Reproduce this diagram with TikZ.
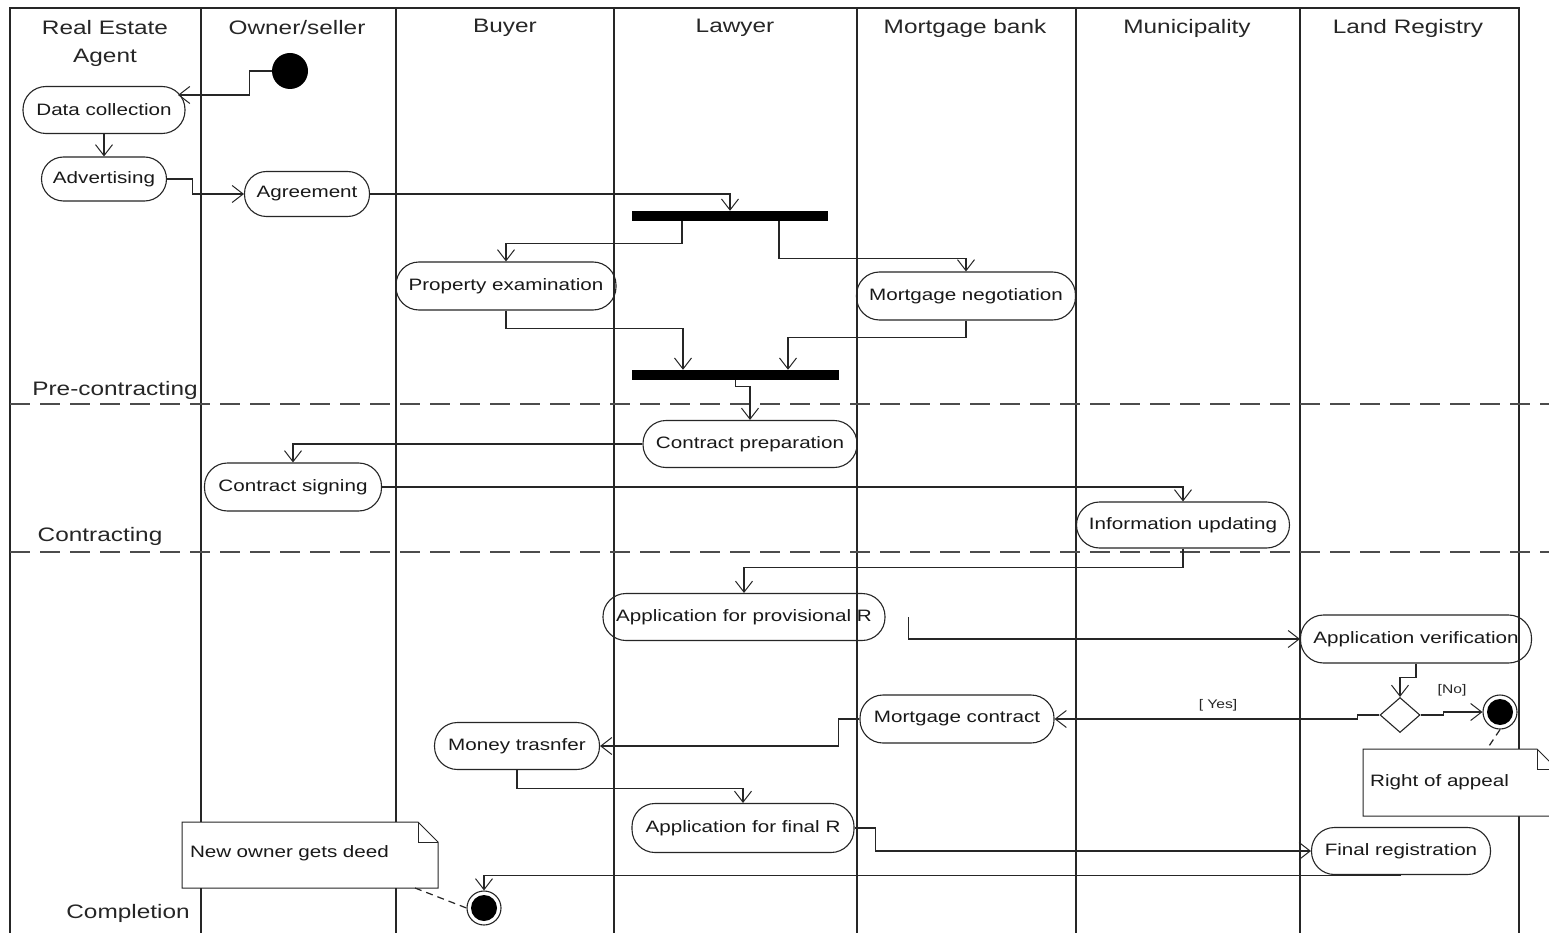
\documentclass[tikz,border=0pt]{standalone}
\usepackage{fontspec}
\setmainfont{Liberation Sans}[FakeStretch=1.25]
\usetikzlibrary{arrows.meta,shapes.geometric}
\begin{document}
\begin{tikzpicture}[x=1pt,y=-1pt,
  lane/.style={line width=1.7pt, draw=black!85},
  phase/.style={line width=1.2pt, draw=black!70, dash pattern=on 20pt off 10pt},
  hdr/.style={font=\fontsize{19.5}{28}\selectfont, text=black!85, align=center},
  act/.style={draw=black!85, line width=1.1pt, rounded corners=23pt, font=\fontsize{16.5}{18}\selectfont, inner sep=0pt, minimum height=47pt, text=black!90},
  bar/.style={fill=black, inner sep=0pt, minimum height=10pt},
  arr/.style={line width=1.1pt, draw=black!85, -{Straight Barb[length=11pt,width=17pt,line width=1pt]}},
  ln/.style={line width=1.1pt, draw=black!85},
  notelink/.style={line width=1.2pt, draw=black!85, dash pattern=on 7pt off 5pt},
  notebox/.style={font=\fontsize{16.5}{18}\selectfont, text=black!90, inner sep=0pt, align=left},
  guard/.style={font=\fontsize{12.5}{14}\selectfont, text=black!85, inner sep=0pt},
  endnode/.style={circle, draw=black!85, line width=1.1pt, minimum size=34pt, inner sep=0pt}
]
\useasboundingbox (0,0) rectangle (1549,933);
\fill[white] (0,0) rectangle (1549,933);

% swimlanes
\draw[lane] (10,933) -- (10,8) -- (1519,8) -- (1519,933);
\foreach \x in {201,396,614,857,1076,1300} \draw[lane] (\x,8) -- (\x,933);
\draw[phase] (10,404) -- (1549,404);
\draw[phase] (10,552) -- (1549,552);

% headers
\node[hdr] (h1) at (105,43) {Real Estate\\Agent};
\node[hdr] (h2) at (297,28) {Owner/seller};
\node[hdr] (h3) at (505,28) {Buyer};
\node[hdr] (h4) at (735,28) {Lawyer};
\node[hdr] (h5) at (965,28) {Mortgage bank};
\node[hdr] (h6) at (1187,28) {Municipality};
\node[hdr] (h7) at (1408,28) {Land Registry};

% phase labels
\node[hdr] (p1) at (115,390) {Pre-contracting};
\node[hdr] (p2) at (100,536) {Contracting};
\node[hdr] (p3) at (128,913) {Completion};

% activity nodes
\node[fill=black, circle, minimum size=36pt, inner sep=0pt] (init) at (290,71) {};
\node[act, minimum width=162pt] (dc) at (104,110) {Data collection};
\node[act, minimum width=125pt, minimum height=44pt, rounded corners=22pt] (adv) at (104,179) {Advertising};
\node[act, minimum width=125pt, minimum height=45pt, rounded corners=22pt] (agr) at (307,194) {Agreement};
\node[bar, minimum width=196pt] (bar1) at (730,216) {};
\node[act, minimum width=220pt, minimum height=48pt] (prop) at (506,286) {Property examination};
\node[act, minimum width=219pt, minimum height=48pt] (mneg) at (966,296) {Mortgage negotiation};
\node[bar, minimum width=207pt] (bar2) at (735.5,375) {};
\node[act, minimum width=214pt] (cprep) at (750,444) {Contract preparation};
\node[act, minimum width=177pt, minimum height=48pt] (csign) at (293,487) {Contract signing};
\node[act, minimum width=213pt, minimum height=46pt] (info) at (1183,525) {Information updating};
\node[act, minimum width=282pt] (prov) at (744,617) {Application for provisional R};
\node[act, minimum width=231pt, minimum height=48pt] (appver) at (1416,639) {Application verification};
\node[diamond, draw=black!85, line width=1.1pt, minimum width=40pt, minimum height=35pt, inner sep=0pt] (dec) at (1400,715) {};
\node[endnode] (endno) at (1500,712) {};
\fill[black] (endno.center) circle (13pt);
\node[act, minimum width=194pt, minimum height=48pt] (mcon) at (957,719) {Mortgage contract};
\node[act, minimum width=165pt] (money) at (517,746) {Money trasnfer};
\node[act, minimum width=222pt, minimum height=49pt] (final) at (743,828) {Application for final R};
\node[act, minimum width=179pt] (finreg) at (1401,851) {Final registration};
\node[endnode] (end2) at (484,908) {};
\fill[black] (end2.center) circle (13pt);

% note 1
\path[fill=white] (182,822) rectangle (438,888);
\node[notebox, minimum width=256pt, minimum height=66pt, text width=240pt] (note1) at (310,853) {New owner gets deed};
\draw[ln, line width=1pt] (182,822) -- (418,822) -- (438,842) -- (438,888) -- (182,888) -- cycle;
\draw[ln, line width=1pt] (418,822) |- (438,842);

% note 2
\begin{scope}
\clip (0,0) rectangle (1549,933);
\draw[ln, line width=1pt, fill=white] (1363,749) -- (1537,749) -- (1557,769) -- (1557,816) -- (1363,816) -- cycle;
\draw[ln, line width=1pt] (1537,749) |- (1557,769);
\node[notebox, anchor=west] (note2) at (1370,782) {Right of appeal};
\end{scope}

% connectors
\coordinate (dcin) at (178,95);
\coordinate (n1c) at (415,888);
\coordinate (n2c) at (1487,749);
\draw[arr] (init.west) -- ++(-22,0) |- (dcin);
\draw[arr] (dc.south) -- (adv.north);
\draw[arr] (adv.east) -- ++(25,0) |- (agr.west);
\draw[arr] (agr.east) -| (bar1.north);
\draw[arr] ([xshift=-48pt]bar1.south) -- ++(0,22) -| (prop.north);
\draw[arr] ([xshift=49pt]bar1.south) -- ++(0,37) -| (mneg.north);
\draw[arr] (prop.south) -- ++(0,18) -| ([xshift=-52.5pt]bar2.north);
\draw[arr] (mneg.south) -- ++(0,17) -| ([xshift=52.5pt]bar2.north);
\draw[arr] (bar2.south) -- ++(0,6) -| (cprep.north);
\draw[arr] (cprep.west) -| (csign.north);
\draw[arr] (csign.east) -| (info.north);
\draw[arr] (info.south) -- ++(0,19) -| (prov.north);
\draw[arr] ([xshift=23pt]prov.east) |- (appver.west);
\draw[arr] (appver.south) -- ++(0,14) -| (dec.north);
\draw[arr] (dec.east) -- ++(23,0) |- (endno.west);
\draw[arr] (dec.west) -- ++(-22,0) |- (mcon.east);
\draw[arr] (mcon.west) -- ++(-21,0) |- (money.east);
\draw[arr] (money.south) -- ++(0,18) -| (final.north);
\draw[arr] (final.east) -- ++(21,0) |- (finreg.west);
\draw[arr] (finreg.south) -| (end2.north);
\draw[notelink] (n1c) -- (end2.west);
\draw[notelink] (endno.south) -- (n2c);

% guards
\node[guard] (gno) at (1452,690) {[No]};
\node[guard] (gyes) at (1218,705) {[ Yes]};
\end{tikzpicture}
\end{document}
